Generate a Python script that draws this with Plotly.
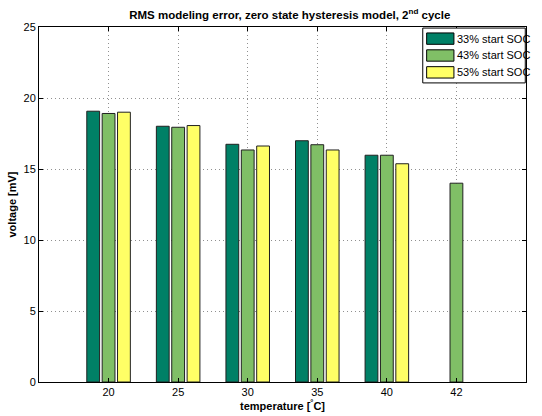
import plotly.graph_objects as go

# Temperatures (categories) and RMS modelling error per start SOC [mV]
temperatures = ["20", "25", "30", "35", "40", "42"]
soc33 = [19.07, 18.01, 16.74, 16.99, 15.97, None]
soc43 = [18.91, 17.94, 16.34, 16.71, 15.97, 14.0]
soc53 = [19.00, 18.06, 16.62, 16.34, 15.37, None]
series_names = ["33% start SOC", "43% start SOC", "53% start SOC"]
series_colors = ["#008066", "#80BF66", "#FFFF66"]
y_ticks = [0, 5, 10, 15, 20, 25]

FONT = "Liberation Sans, Arial, Helvetica, sans-serif"

fig = go.Figure()
for name, vals, col in zip(series_names, [soc33, soc43, soc53], series_colors):
    fig.add_trace(go.Bar(
        x=temperatures, y=vals, name=name,
        marker=dict(color=col, line=dict(color="#202020", width=1)),
        showlegend=False,
    ))

# Legend box drawn in the upper right corner of the axes
lx0, lx1, ly1 = 0.788, 0.9985, 0.997
row_h = 0.0475
shapes = [dict(type="rect", xref="paper", yref="paper",
               x0=lx0, x1=lx1, y0=ly1 - 3 * row_h - 0.012, y1=ly1,
               line=dict(color="black", width=1), fillcolor="white", layer="above")]
annotations = []
for i, (name, col) in enumerate(zip(series_names, series_colors)):
    yc = ly1 - 0.006 - row_h * (i + 0.5)
    shapes.append(dict(type="rect", xref="paper", yref="paper",
                       x0=lx0 + 0.008, x1=lx0 + 0.064,
                       y0=yc - 0.016, y1=yc + 0.016,
                       line=dict(color="black", width=1), fillcolor=col, layer="above"))
    annotations.append(dict(xref="paper", yref="paper", x=lx0 + 0.066, y=yc,
                            text=name, showarrow=False, xanchor="left", yanchor="middle",
                            font=dict(size=11, color="black", family=FONT)))

fig.update_layout(
    width=542, height=416,
    margin=dict(l=39, r=16, t=27, b=34),
    paper_bgcolor="white", plot_bgcolor="white",
    barmode="group", bargap=0.337, bargroupgap=0.167,
    font=dict(family=FONT, size=11, color="black"),
    title=dict(text="<b>RMS modeling error, zero state hysteresis model, 2<sup>nd</sup> cycle</b>",
               x=0.515, xref="paper", xanchor="center", y=0.965, yref="container",
               yanchor="middle", font=dict(size=11.5, family=FONT)),
    shapes=shapes, annotations=annotations,
)
fig.update_xaxes(
    type="category", range=[-1, 6], automargin=False,
    showline=True, linecolor="black", linewidth=1, mirror="ticks",
    ticks="inside", ticklen=4, tickcolor="black",
    showgrid=True, gridcolor="#909090", griddash="1px,3px", gridwidth=1,
    tickfont=dict(size=11),
    title=dict(text="<b>temperature [<sup>°</sup>C]</b>", font=dict(size=11), standoff=2),
)
fig.update_yaxes(
    range=[0, 25], tickvals=y_ticks, automargin=False,
    showline=True, linecolor="black", linewidth=1, mirror="ticks",
    ticks="inside", ticklen=4, tickcolor="black",
    showgrid=True, gridcolor="#909090", griddash="1px,3px", gridwidth=1,
    zeroline=False, tickfont=dict(size=11),
    title=dict(text="<b>voltage [mV]</b>", font=dict(size=11), standoff=4),
)

fig.write_html("out.html")
